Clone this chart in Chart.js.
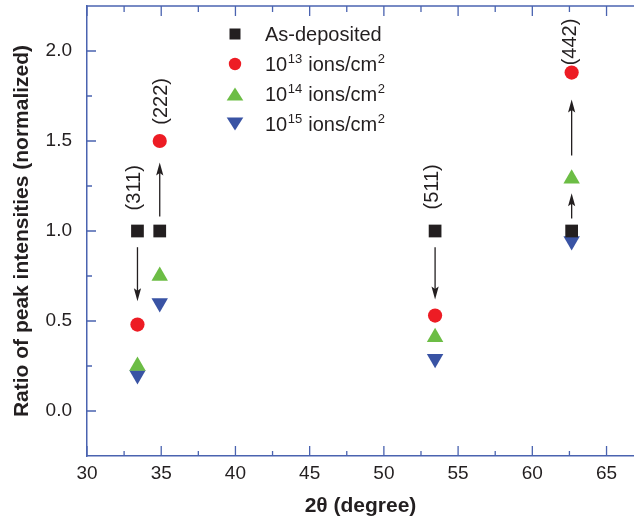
<!DOCTYPE html>
<html>
<head>
<meta charset="utf-8">
<script src="https://cdn.jsdelivr.net/npm/chart.js@4.4.0/dist/chart.umd.min.js"></script>
<style>
  body { margin: 0; background: #fff; }
  #wrap { width: 634px; height: 523px; }
</style>
</head>
<body>
<div id="wrap"><canvas id="ratioChart"></canvas></div>
<script>
// Posiciones de los picos (2θ) y sus índices
const peakPos = [33.4, 34.9, 53.45, 62.65];
const peakNames = ['(311)', '(222)', '(511)', '(442)'];
const peakLabelX = [33.2, 35.0, 53.3, 62.55];
const peakLabelY = [1.24, 1.72, 1.245, 2.05];

// Razón de intensidades normalizada para cada dosis
const asDeposited = [1.0, 1.0, 1.0, 1.0];
const dose13 = [0.48, 1.50, 0.53, 1.88];
const dose14 = [0.25, 0.75, 0.41, 1.29];
const dose15 = [0.20, 0.60, 0.29, 0.945];
const seriesNames = ['As-deposited', '10^13 ions/cm^2', '10^14 ions/cm^2', '10^15 ions/cm^2'];

// Flechas: posición x, valor inicial y valor final
const arrowX = [33.4, 34.9, 53.45, 62.65, 62.65];
const arrowFrom = [0.91, 1.08, 0.91, 1.42, 1.07];
const arrowTo = [0.61, 1.38, 0.62, 1.73, 1.21];

// Marcas de los ejes
const xTicks = [30, 35, 40, 45, 50, 55, 60, 65];
const yTicks = [0, 0.5, 1, 1.5, 2];
const yTickLabels = ['0.0', '0.5', '1.0', '1.5', '2.0'];

const axisColor = '#4a63b0';
const inkColor = '#231f20';
const colors = ['#231f20', '#ed1c24', '#6cbd45', '#3953a4'];
const fontFamily = '"Liberation Sans", Arial, Helvetica, sans-serif';

function toPoints(values) {
    return values.map((v, i) => ({ x: peakPos[i], y: v }));
}

// Dibuja un marcador simple para la leyenda
function drawMarker(ctx, kind, x, y, color) {
    ctx.fillStyle = color;
    ctx.beginPath();
    if (kind === 0) {
        ctx.rect(x - 5.5, y - 5.5, 11, 11);
    } else if (kind === 1) {
        ctx.arc(x, y, 6.2, 0, Math.PI * 2);
    } else if (kind === 2) {
        ctx.moveTo(x, y - 6.5); ctx.lineTo(x + 8.3, y + 6.5); ctx.lineTo(x - 8.3, y + 6.5);
    } else {
        ctx.moveTo(x, y + 6.5); ctx.lineTo(x + 8.3, y - 6.5); ctx.lineTo(x - 8.3, y - 6.5);
    }
    ctx.closePath();
    ctx.fill();
}

// Texto con superíndices marcados como ^NN
function drawRichText(ctx, text, x, y) {
    const parts = text.split(/(\^\d+)/);
    let cx = x;
    parts.forEach(p => {
        if (!p) return;
        if (p[0] === '^') {
            ctx.font = '13px ' + fontFamily;
            ctx.fillText(p.slice(1), cx + 0.5, y - 8.5);
            cx += ctx.measureText(p.slice(1)).width + 1;
        } else {
            ctx.font = '20px ' + fontFamily;
            ctx.fillText(p, cx, y);
            cx += ctx.measureText(p).width;
        }
    });
}

const overlayPlugin = {
    id: 'overlay',
    beforeDatasetsDraw(chart) {
        const { ctx, chartArea: a, scales: { x, y } } = chart;
        ctx.save();
        ctx.strokeStyle = axisColor;
        ctx.lineWidth = 1.5;
        // línea superior del marco
        ctx.beginPath();
        ctx.moveTo(a.left, a.top);
        ctx.lineTo(a.right, a.top);
        ctx.stroke();

        // marcas hacia dentro (mayores y menores)
        ctx.lineWidth = 1.3;
        ctx.beginPath();
        xTicks.forEach(v => {
            const px = x.getPixelForValue(v);
            ctx.moveTo(px, a.bottom); ctx.lineTo(px, a.bottom - 10);
            ctx.moveTo(px, a.top); ctx.lineTo(px, a.top + 10);
            const m = x.getPixelForValue(v + 2.5);
            if (m < a.right) {
                ctx.moveTo(m, a.bottom); ctx.lineTo(m, a.bottom - 5);
                ctx.moveTo(m, a.top); ctx.lineTo(m, a.top + 6);
            }
        });
        yTicks.forEach(v => {
            const py = y.getPixelForValue(v);
            ctx.moveTo(a.left, py); ctx.lineTo(a.left + 9, py);
            const m = y.getPixelForValue(v + 0.25);
            if (m > a.top + 2) {
                ctx.moveTo(a.left, m); ctx.lineTo(a.left + 5, m);
            }
        });
        ctx.stroke();

        // flechas
        ctx.strokeStyle = inkColor;
        ctx.fillStyle = inkColor;
        ctx.lineWidth = 1.3;
        arrowX.forEach((ax, i) => {
            const px = x.getPixelForValue(ax);
            const y0 = y.getPixelForValue(arrowFrom[i]);
            const y1 = y.getPixelForValue(arrowTo[i]);
            const dir = y1 > y0 ? 1 : -1;
            ctx.beginPath();
            ctx.moveTo(px, y0);
            ctx.lineTo(px, y1 - dir * 8);
            ctx.stroke();
            ctx.beginPath();
            ctx.moveTo(px, y1);
            ctx.lineTo(px - 3.6, y1 - dir * 13);
            ctx.lineTo(px, y1 - dir * 10.5);
            ctx.lineTo(px + 3.6, y1 - dir * 13);
            ctx.closePath();
            ctx.fill();
        });

        // índices de Miller en vertical
        ctx.font = '20px ' + fontFamily;
        ctx.textAlign = 'center';
        ctx.textBaseline = 'middle';
        peakNames.forEach((name, i) => {
            ctx.save();
            ctx.translate(x.getPixelForValue(peakLabelX[i]), y.getPixelForValue(peakLabelY[i]));
            ctx.rotate(-Math.PI / 2);
            ctx.fillText(name, 0, 0);
            ctx.restore();
        });

        // leyenda
        ctx.textAlign = 'left';
        ctx.textBaseline = 'alphabetic';
        seriesNames.forEach((name, i) => {
            const rowY = 34 + i * 30;
            drawMarker(ctx, i, 235, rowY, colors[i]);
            ctx.fillStyle = inkColor;
            drawRichText(ctx, name, 265, rowY + 7);
        });
        ctx.restore();
    }
};

const ctx = document.getElementById('ratioChart').getContext('2d');
new Chart(ctx, {
    type: 'scatter',
    data: {
        datasets: [
            { label: seriesNames[0], data: toPoints(asDeposited), pointStyle: 'rect', pointRadius: 9,
              backgroundColor: colors[0], borderColor: colors[0], borderWidth: 0 },
            { label: seriesNames[1], data: toPoints(dose13), pointStyle: 'circle', pointRadius: 7.1,
              backgroundColor: colors[1], borderColor: colors[1], borderWidth: 0 },
            { label: seriesNames[2], data: toPoints(dose14), pointStyle: 'triangle', pointRadius: 9.5,
              backgroundColor: colors[2], borderColor: colors[2], borderWidth: 0 },
            { label: seriesNames[3], data: toPoints(dose15), pointStyle: 'triangle', rotation: 180, pointRadius: 9.5,
              backgroundColor: colors[3], borderColor: colors[3], borderWidth: 0 }
        ]
    },
    options: {
        responsive: true,
        maintainAspectRatio: false,
        animation: false,
        layout: { autoPadding: false, padding: { top: 6, right: 0, bottom: 0, left: 0 } },
        plugins: { legend: { display: false }, tooltip: { enabled: false } },
        scales: {
            x: {
                type: 'linear',
                position: 'bottom',
                min: 30,
                max: 66.85,
                afterBuildTicks: s => { s.ticks = xTicks.map(v => ({ value: v })); },
                afterFit: s => { s.height = 67; s.paddingLeft = 0; s.paddingRight = 0; },
                grid: { display: false, drawTicks: false },
                border: { color: axisColor, width: 1.5 },
                ticks: { color: inkColor, font: { family: fontFamily, size: 19 }, padding: 6, maxRotation: 0 },
                title: { display: true, text: '2θ (degree)', color: inkColor,
                         font: { family: fontFamily, size: 21, weight: 'bold' }, padding: { top: 0, bottom: 4 } }
            },
            y: {
                type: 'linear',
                min: -0.25,
                max: 2.25,
                afterBuildTicks: s => { s.ticks = yTicks.map(v => ({ value: v })); },
                afterFit: s => { s.width = 87; s.paddingTop = 0; s.paddingBottom = 0; },
                grid: { display: false, drawTicks: false },
                border: { color: axisColor, width: 1.5 },
                ticks: { color: inkColor, font: { family: fontFamily, size: 19 }, padding: 15,
                         callback: (v, i) => yTickLabels[i] },
                title: { display: true, text: 'Ratio of peak intensities (normalized)', color: inkColor,
                         font: { family: fontFamily, size: 21, weight: 'bold' }, padding: { top: 10, bottom: 0 } }
            }
        }
    },
    plugins: [overlayPlugin]
});
</script>
</body>
</html>
